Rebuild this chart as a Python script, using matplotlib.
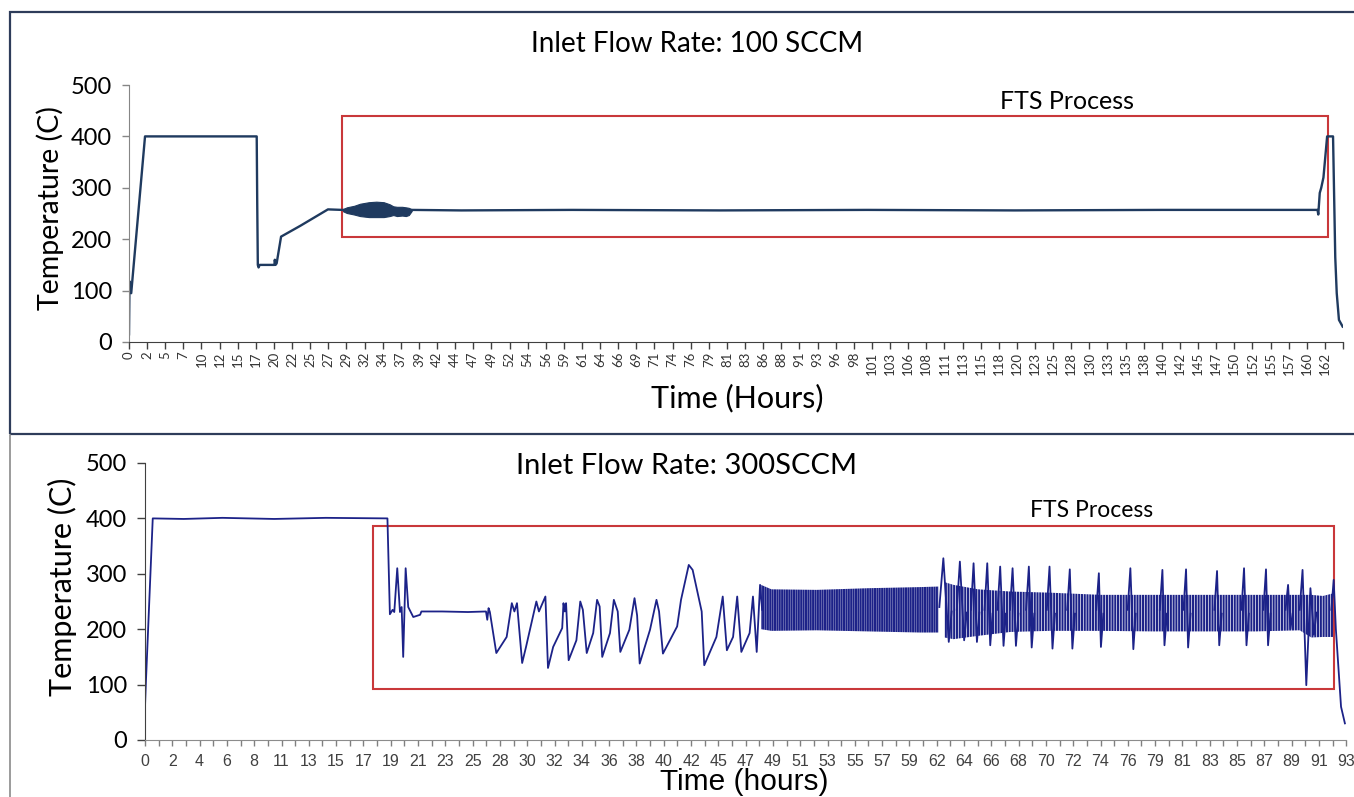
import numpy as np
import matplotlib.pyplot as plt
from matplotlib.patches import Rectangle
from matplotlib.lines import Line2D

nan = np.nan

# ── данные: 100 SCCM (часы, °C) ───────────────────────────────────────────
t100 = [0, 0.07, 0.3, 2.17, 17.3, 17.37, 17.45, 17.55, 17.7, 19.7, 19.75, 19.85,
        20.0, 20.6, 23.2, 26.95, 28.85, 38.3, 45, 60, 80, 100, 120, 140, 161.0,
        161.1, 161.3, 161.5, 161.8, 162.3, 163.1, 163.4, 163.6, 163.9, 164.4]
T100 = [15, 118, 95, 400, 400, 270, 150, 145, 150, 150, 160, 150,
        153, 205, 226, 258, 257, 257, 256, 257, 256, 257, 256, 257, 257,
        248, 290, 300, 320, 400, 400, 165, 95, 43, 30]
# полоса колебаний около 258 °C
band100_t = [28.9, 29.5, 30.5, 31.3, 32.5, 33.5, 34.5, 35.3, 35.8, 36.3, 37.0, 37.5, 37.9, 38.3]
band100_hi = [258, 262, 265, 269, 272, 273, 272, 268, 264, 263, 263, 262, 261, 258]
band100_lo = [255, 251, 248, 245, 243, 243, 243, 245, 247, 245, 246, 245, 247, 255]
box100 = (28.85, 162.4, 204, 440)

labels100 = ['0', '2', '5', '7', '10', '12', '15', '17', '20', '22', '25', '27', '29', '32',
             '34', '37', '39', '42', '44', '47', '49', '52', '54', '56', '59', '61', '64',
             '66', '69', '71', '74', '76', '79', '81', '83', '86', '88', '91', '93', '96',
             '98', '101', '103', '106', '108', '111', '113', '115', '118', '120', '123',
             '125', '128', '130', '133', '135', '138', '140', '142', '145', '147', '150',
             '152', '155', '157', '160', '162', '']

# ── данные: 300 SCCM (nan = разрыв линии внутри полосы колебаний) ──────────
t300 = [0, 0.08, 0.6, 3, 6, 10, 14, 18.77, 18.96, 19.17, 19.30, 19.53, 19.74, 19.87,
        19.99, 20.18, 20.38, 20.77, 21.3, 21.4, 23, 25, 26.4, 26.5, 26.6, 26.7,
        27.2, 28.0, 28.4, 28.6, 28.8, 29.2, 29.5, 30.3, 30.5, 31.0, 31.2, 31.6,
        32.3, 32.4, 32.5, 32.6, 32.8, 33.4, 33.7, 33.9, 34.2, 34.7, 35.0, 35.2,
        35.4, 36.0, 36.3, 36.6, 36.8, 37.5, 37.9, 38.1, 38.3, 39.1, 39.6, 39.8,
        40.1, 41.2, 41.5, 42.1, 42.4, 43.1, 43.3, 44.24, 44.73, 45.05, 45.53, 45.85,
        46.17, 46.81, 47.07, 47.36, 47.62, 47.78, nan,
        61.5, 61.81, 62.23, 62.45, nan,
        62.85, 63.09, 63.42, 63.62, nan,
        63.95, 64.15, 64.41, 64.6, nan,
        65.0, 65.21, 65.44, 65.62, nan,
        66.0, 66.21, 66.47, 66.65, nan,
        66.97, 67.17, 67.43, 67.62, nan,
        68.22, 68.43, 68.65, 68.85, nan,
        69.82, 70.03, 70.26, 70.45, nan,
        71.4, 71.6, 71.8, 72.0, nan,
        73.65, 73.85, 74.01, 74.2, nan,
        76.08, 76.29, 76.52, 76.7, nan,
        78.57, 78.77, 78.93, 79.12, nan,
        80.4, 80.6, 80.76, 80.95, nan,
        82.8, 83.0, 83.17, 83.36, nan,
        84.89, 85.09, 85.28, 85.46, nan,
        86.59, 86.79, 86.95, 87.14, nan,
        88.3, 88.5, 88.68, 88.85, nan,
        89.4, 89.62, 89.91, 90.23, 90.5, 90.7, nan,
        91.85, 92.03, 92.2, 92.6, 92.9]
T300 = [60, 110, 400, 399, 401, 399, 401, 400, 227, 235, 231, 310, 231, 240,
        150, 310, 240, 222, 226, 232, 232, 231, 232, 217, 238, 231,
        157, 186, 247, 232, 247, 139, 168, 250, 232, 259, 130, 168,
        202, 247, 232, 247, 144, 180, 250, 235, 157, 193, 253, 241,
        150, 193, 253, 232, 159, 199, 256, 225, 138, 199, 253, 232,
        156, 205, 253, 316, 307, 232, 135, 186, 259, 162, 186, 259,
        159, 193, 259, 159, 280, 235, nan,
        240, 328, 177, 232, nan,
        235, 322, 180, 230, nan,
        235, 319, 177, 230, nan,
        235, 319, 171, 228, nan,
        235, 313, 170, 228, nan,
        235, 310, 170, 228, nan,
        235, 313, 167, 228, nan,
        235, 313, 165, 228, nan,
        235, 308, 165, 228, nan,
        235, 301, 168, 228, nan,
        235, 310, 164, 228, nan,
        235, 307, 171, 228, nan,
        235, 308, 167, 228, nan,
        235, 305, 171, 228, nan,
        235, 310, 171, 228, nan,
        235, 308, 171, 228, nan,
        235, 280, 200, 228, nan,
        235, 307, 99, 274, 190, 230, nan,
        235, 289, 200, 60, 30]
# полосы быстрых колебаний (огибающие)
fast_t = [47.7, 48.5, 52, 56, 60, 61.42]
fast_hi = [280, 272, 271, 274, 276, 277]
fast_lo = [200, 197, 198, 196, 194, 194]
irr_t = [61.9, 62.6, 64.5, 67, 70, 74, 78, 82, 86, 89.4, 90.3, 91.2, 92.05]
irr_hi = [285, 280, 272, 268, 266, 262, 262, 262, 262, 262, 262, 260, 265]
irr_lo = [185, 182, 188, 195, 197, 197, 196, 196, 196, 198, 185, 186, 186]
box300 = (17.65, 92.05, 92, 386)

labels300 = ['0', '2', '4', '6', '8', '11', '13', '15', '17', '19', '21', '23', '25', '28',
             '30', '32', '34', '36', '38', '40', '42', '45', '47', '49', '51', '53', '55',
             '57', '59', '62', '64', '66', '68', '70', '72', '74', '76', '79', '81', '83',
             '85', '87', '89', '91', '93']

CAL = ['Lato', 'DejaVu Sans']
ARI = ['Liberation Sans', 'DejaVu Sans']
RED = '#c9383a'
NAVY = '#1c2288'
plt.rcParams['hatch.linewidth'] = 1.5

fig = plt.figure(figsize=(13.54, 7.97), dpi=100)
W, H = 1354, 797

def fx(px):
    return px / W

def fy(py):
    return 1 - py / H

# рамки панелей
fig.add_artist(Rectangle((fx(10), fy(434)), fx(1360) - fx(10), fy(12) - fy(434),
                         transform=fig.transFigure, fill=False, ec='#2e3c5a', lw=1.6))
fig.add_artist(Line2D([fx(10), fx(10)], [fy(435), 0], transform=fig.transFigure,
                      color='#8a8a8a', lw=1.2))

# ── верхний график ────────────────────────────────────────────────────────
step1 = 162 / 66
ax1 = fig.add_axes([fx(129), fy(342), fx(129 + 164.5 * 18.12 / step1) - fx(129), fy(85) - fy(342)])
ax1.plot(t100, T100, color='#1f3a5f', lw=1.7, solid_joinstyle='round')
ax1.fill_between(band100_t, band100_lo, band100_hi, color='#1f3a5f', lw=0.8)
x0, x1, y0, y1 = box100
ax1.add_patch(Rectangle((x0, y0), x1 - x0, y1 - y0, fill=False, ec=RED, lw=1.5))
ax1.text(127.0, 467, 'FTS Process', ha='center', va='center', fontsize=18, family=CAL)
ax1.set_xlim(0, 164.5)
ax1.set_ylim(0, 500)
ax1.set_xticks(np.arange(len(labels100)) * step1)
ax1.set_xticklabels(labels100, rotation=90, fontsize=9.5, family=CAL, color='#333333')
ax1.set_yticks(range(0, 501, 100))
ax1.set_yticklabels([str(v) for v in range(0, 501, 100)], fontsize=17, family=CAL)
ax1.tick_params(axis='x', length=5, width=1, color='#404040', pad=2)
ax1.tick_params(axis='y', length=5, width=1, color='#868686', pad=7)
for s in ['top', 'right']:
    ax1.spines[s].set_visible(False)
ax1.spines['left'].set_color('#868686')
ax1.spines['bottom'].set_color('#404040')
fig.text(fx(697), fy(44), 'Inlet Flow Rate: 100 SCCM', ha='center', va='center',
         fontsize=20, family=CAL)
fig.text(fx(50), fy(208), 'Temperature (C)', rotation=90, ha='center', va='center',
         fontsize=20.5, family=CAL)
fig.text(fx(737), fy(398), 'Time (Hours)', ha='center', va='center', fontsize=22, family=CAL)

# ── нижний график ─────────────────────────────────────────────────────────
step3 = 93 / 44
ax2 = fig.add_axes([fx(145), fy(740), fx(145 + 44 * 27.3) - fx(145), fy(463) - fy(740)])
ax2.fill_between(fast_t, fast_lo, fast_hi, facecolor='none', edgecolor=NAVY,
                 hatch='|||||||', lw=0)
ax2.fill_between(irr_t, irr_lo, irr_hi, facecolor='none', edgecolor=NAVY,
                 hatch='||||||', lw=0)
ax2.plot(t300, T300, color=NAVY, lw=1.3, solid_joinstyle='round')
x0, x1, y0, y1 = box300
ax2.add_patch(Rectangle((x0, y0), x1 - x0, y1 - y0, fill=False, ec=RED, lw=1.5))
ax2.text(73.3, 415, 'FTS Process', ha='center', va='center', fontsize=16.5, family=CAL)
ax2.set_xlim(0, 93)
ax2.set_ylim(0, 500)
ax2.set_xticks(np.arange(len(labels300)) * step3)
ax2.set_xticklabels(labels300, fontsize=11.5, family=ARI, color='#404040')
ax2.set_xticks(np.arange(len(labels300) - 1) * step3 + step3 / 2, minor=True)
ax2.set_yticks(range(0, 501, 100))
ax2.set_yticklabels([str(v) for v in range(0, 501, 100)], fontsize=17, family=CAL)
ax2.tick_params(axis='x', which='both', length=4, width=1, color='#808080', pad=6)
ax2.tick_params(axis='y', length=6, width=1, color='#404040', pad=7)
for s in ['top', 'right']:
    ax2.spines[s].set_visible(False)
ax2.spines['left'].set_color('#404040')
ax2.spines['bottom'].set_color('#8c8c8c')
fig.text(fx(686), fy(466), 'Inlet Flow Rate: 300SCCM', ha='center', va='center',
         fontsize=21, family=CAL)
fig.text(fx(62), fy(587), 'Temperature (C)', rotation=90, ha='center', va='center',
         fontsize=22, family=CAL)
fig.text(fx(744), fy(782), 'Time (hours)', ha='center', va='center', fontsize=21.5, family=ARI)

plt.savefig('out.png', dpi=100)
